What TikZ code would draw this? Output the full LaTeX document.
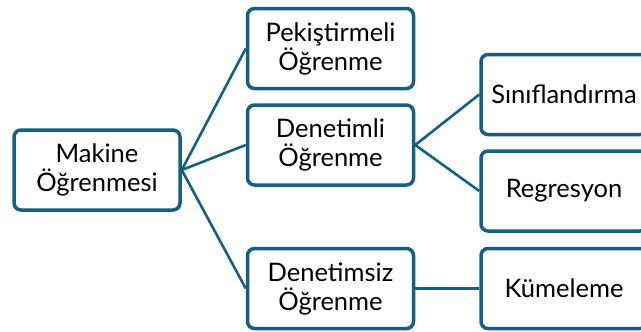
\documentclass[tikz,border=0pt]{standalone}
\usepackage{fontspec}
\setmainfont{Lato}
\usetikzlibrary{positioning}
\definecolor{teal60}{HTML}{156082}

\begin{document}
\begin{tikzpicture}[
  x=1pt,y=-1pt,
  font=\fontsize{25.5}{29}\selectfont,
  box/.style={draw=teal60,line width=3.5pt,rounded corners=7pt,fill=white,
              minimum width=166pt,minimum height=80pt,align=center,inner sep=2pt},
  link/.style={draw=teal60,line width=2.6pt}]

\useasboundingbox (0,0) rectangle (641,332);
\clip (0,0) rectangle (641,332);

\node[box] (mak) at (97,170) {Makine\\Öğrenmesi};
\node[box] (den) at (330.5,145) {Denetimli\\Öğrenme};
\node[box,above=13pt of den] (pek) {Pekiştirmeli\\Öğrenme};
\node[box,below=60pt of den] (dsiz) {Denetimsiz\\Öğrenme};
\node[box,right=64pt of dsiz] (kum) {Kümeleme};
\node[box,above=14pt of kum] (reg) {Regresyon};
\node[box,above=13pt of reg] (sin) {Sınıflandırma};

\draw[link] (mak.east) -- (pek.west);
\draw[link] (mak.east) -- (den.west);
\draw[link] (mak.east) -- (dsiz.west);
\draw[link] (den.east) -- (sin.west);
\draw[link] (den.east) -- (reg.west);
\draw[link] (dsiz.east) -- (kum.west);
\end{tikzpicture}
\end{document}
